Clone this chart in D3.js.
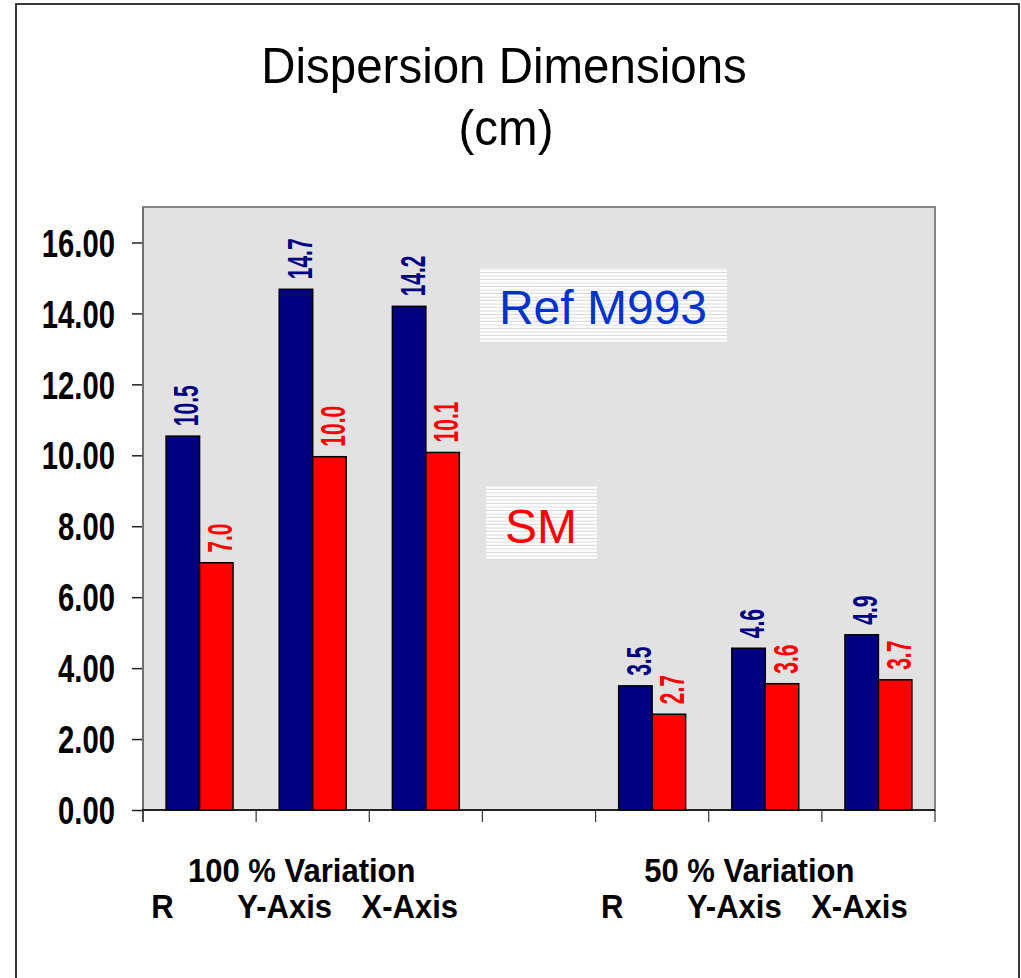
<!DOCTYPE html>
<html>
<head>
<meta charset="utf-8">
<script src="https://cdn.jsdelivr.net/npm/d3@7"></script>
<style>
  html, body { margin: 0; padding: 0; background: #ffffff; }
  svg { display: block; }
</style>
</head>
<body>
<script>
// ---- data ----
const titleLines = ["Dispersion Dimensions", "(cm)"];
const groups = ["100 % Variation", "50 % Variation"];
const subCategories = ["R", "Y-Axis", "X-Axis"];
const seriesNames = ["Ref M993", "SM"];
const refValues = [10.54, 14.68, 14.2, 3.5, 4.56, 4.94];
const smValues = [6.97, 9.96, 10.08, 2.7, 3.56, 3.67];
const yTicks = [0, 2, 4, 6, 8, 10, 12, 14, 16];

// ---- layout ----
const W = 1021, H = 978;
const plot = { left: 143, right: 935, top: 207, bottom: 810 };
const colors = { "Ref M993": "#000080", "SM": "#ff0000" };
const legendText = { "Ref M993": "#0033cc", "SM": "#ff0000" };

const svg = d3.select("body").append("svg").attr("width", W).attr("height", H)
  .style("font-family", "'Liberation Sans', Arial, sans-serif");

// legend pattern
const defs = svg.append("defs");
const pat = defs.append("pattern").attr("id", "hlines").attr("patternUnits", "userSpaceOnUse")
  .attr("width", 8).attr("height", 3.5);
pat.append("rect").attr("width", 8).attr("height", 3.5).attr("fill", "#ffffff");
pat.append("rect").attr("y", 2.5).attr("width", 8).attr("height", 1).attr("fill", "#d9d9d9");

// outer border
svg.append("rect").attr("x", 16).attr("y", 4).attr("width", 1003).attr("height", 1000)
  .attr("fill", "none").attr("stroke", "#3a3a3a").attr("stroke-width", 2);

// title
svg.append("g").attr("transform", "translate(504,83) scale(0.95,1)")
  .append("text").attr("text-anchor", "middle")
  .attr("font-size", 50).attr("fill", "#000").text(titleLines[0]);
svg.append("g").attr("transform", "translate(506,145) scale(0.95,1)")
  .append("text").attr("text-anchor", "middle")
  .attr("font-size", 50).attr("fill", "#000").text(titleLines[1]);

// scales
const slots = d3.range(7); // slot 3 is an empty gap between groups
const slotOf = i => (i < 3 ? i : i + 1);
const x0 = d3.scaleBand().domain(slots).range([plot.left, plot.right]).padding(0);
const x1 = d3.scaleBand().domain(seriesNames).range([0, x0.bandwidth()])
  .paddingInner(0).paddingOuter(0.69);
const y = d3.scaleLinear().domain([0, 17]).range([plot.bottom, plot.top]);

// plot background
svg.append("rect").attr("x", plot.left).attr("y", plot.top)
  .attr("width", plot.right - plot.left).attr("height", plot.bottom - plot.top)
  .attr("fill", "#e2e2e2").attr("stroke", "#858585").attr("stroke-width", 2);

// y axis
const yAxis = svg.append("g").attr("transform", `translate(${plot.left},0)`)
  .call(d3.axisLeft(y).tickValues(yTicks).tickSize(11).tickFormat(d3.format(".2f")));
yAxis.select(".domain").remove();
yAxis.selectAll(".tick line").attr("stroke", "#222").attr("stroke-width", 1.5);
yAxis.selectAll(".tick text")
  .attr("x", 0).attr("dy", "0.36em")
  .attr("transform", "translate(-28,0) scale(0.77,1)")
  .attr("font-family", "'Liberation Sans', Arial, sans-serif")
  .attr("font-weight", "bold").attr("font-size", 38).attr("fill", "#000");
svg.append("line").attr("x1", plot.left).attr("x2", plot.left)
  .attr("y1", plot.top).attr("y2", plot.bottom + 12)
  .attr("stroke", "#707070").attr("stroke-width", 2);

// x axis
svg.append("line").attr("x1", plot.left - 1).attr("x2", plot.right)
  .attr("y1", plot.bottom).attr("y2", plot.bottom).attr("stroke", "#000").attr("stroke-width", 1.5);
const xTickPos = slots.map(s => x0(s)).concat([plot.right]);
svg.append("g").selectAll("line").data(xTickPos).join("line")
  .attr("x1", d => d).attr("x2", d => d).attr("y1", plot.bottom).attr("y2", plot.bottom + 12)
  .attr("stroke", "#333").attr("stroke-width", 1.2);

// bars
const rows = [];
refValues.forEach((v, i) => rows.push({ series: "Ref M993", i, v }));
smValues.forEach((v, i) => rows.push({ series: "SM", i, v }));
const fmt = d3.format(".1f");

svg.append("g").selectAll("rect").data(rows).join("rect")
  .attr("x", d => x0(slotOf(d.i)) + x1(d.series))
  .attr("y", d => y(d.v))
  .attr("width", x1.bandwidth())
  .attr("height", d => y(0) - y(d.v))
  .attr("fill", d => colors[d.series])
  .attr("stroke", "#000").attr("stroke-width", 1.5);

// value labels (rotated)
svg.append("g").selectAll("g").data(rows).join("g")
  .attr("transform", d => {
    const cx = x0(slotOf(d.i)) + x1(d.series) + x1.bandwidth() / 2 + 3;
    return `translate(${cx},${y(d.v) - 10}) rotate(-90) scale(0.6,1)`;
  })
  .append("text")
  .attr("dy", "0.36em").attr("text-anchor", "start")
  .attr("font-weight", "bold").attr("font-size", 35)
  .attr("fill", d => colors[d.series])
  .text(d => fmt(d.v));

// legend boxes
const legendBoxes = [
  { name: "Ref M993", x: 480, y: 268, w: 247, h: 75, tx: 603, ty: 324 },
  { name: "SM", x: 486, y: 486, w: 111, h: 74, tx: 541, ty: 543 }
];
legendBoxes.forEach(b => {
  svg.append("rect").attr("x", b.x).attr("y", b.y).attr("width", b.w).attr("height", b.h)
    .attr("fill", "url(#hlines)");
  svg.append("text").attr("x", b.tx).attr("y", b.ty).attr("text-anchor", "middle")
    .attr("font-size", 48).attr("fill", legendText[b.name]).text(b.name);
});

// category labels
const groupCenter = g => (x0(g * 4) + x0(g * 4 + 2) + x0.bandwidth()) / 2;
const groupDx = [-11, -16];
const subDx = [-37, -28, -16];
groups.forEach((gName, g) => {
  svg.append("g").attr("transform", `translate(${groupCenter(g) + groupDx[g]},882) scale(0.94,1)`)
    .append("text").attr("text-anchor", "middle").attr("font-weight", "bold")
    .attr("font-size", 33).attr("fill", "#000").text(gName);
  subCategories.forEach((s, k) => {
    const cx = x0(g * 4 + k) + x0.bandwidth() / 2 + subDx[k] - (g === 1 ? 3 : 0);
    svg.append("g").attr("transform", `translate(${cx},918) scale(0.94,1)`)
      .append("text").attr("text-anchor", "middle").attr("font-weight", "bold")
      .attr("font-size", 33).attr("fill", "#000").text(s);
  });
});
</script>
</body>
</html>
